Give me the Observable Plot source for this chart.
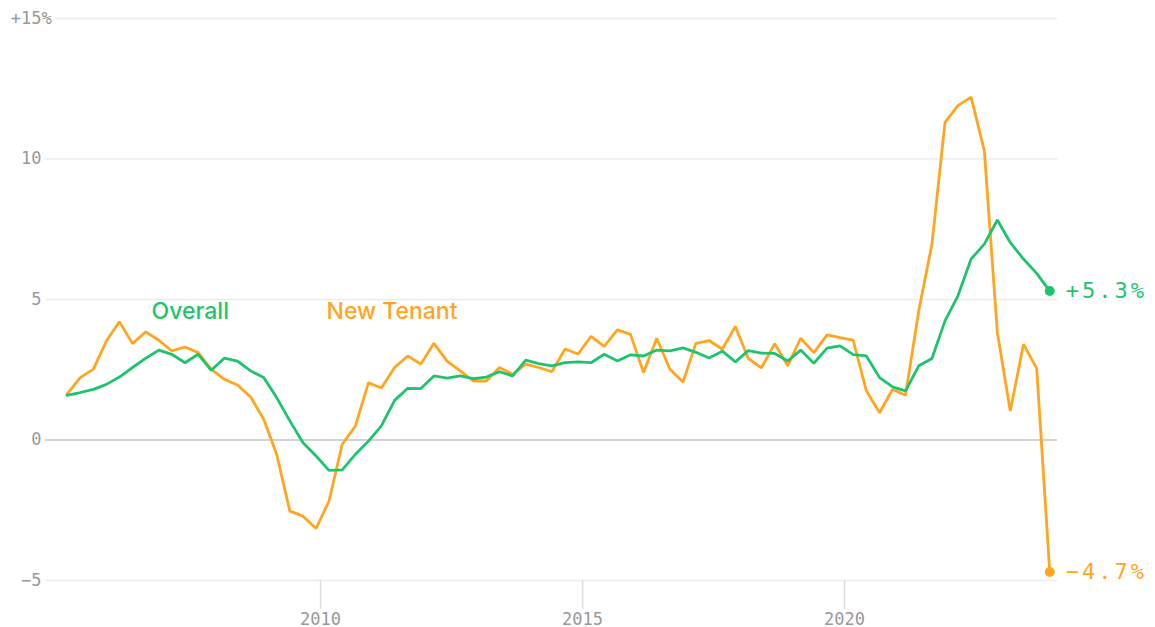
<!DOCTYPE html>
<html>
<head>
<meta charset="utf-8">
<script src="https://cdn.jsdelivr.net/npm/d3@7"></script>
<script src="https://cdn.jsdelivr.net/npm/@observablehq/plot@0.6"></script>
<style>
  html, body { margin: 0; padding: 0; background: #fff; }
  .endlabel text { letter-spacing: 3px; }
</style>
</head>
<body>
<div id="chart"></div>
<script>
// Quarterly series, 2005 Q1 .. 2023 Q4 (76 quarters)
const startYear = 2005;
const seriesNames = ["Overall", "New Tenant"];
const seriesColors = ["#1ec46d", "#ffa51f"];

const overall = [
  1.59, 1.69, 1.80, 1.98, 2.24, 2.58, 2.91, 3.20, 3.05, 2.75,
  3.05, 2.48, 2.91, 2.81, 2.46, 2.22, 1.51, 0.68, -0.10, -0.57,
  -1.08, -1.06, -0.51, -0.04, 0.50, 1.41, 1.84, 1.83, 2.28, 2.20,
  2.28, 2.18, 2.24, 2.43, 2.28, 2.84, 2.72, 2.64, 2.75, 2.78,
  2.75, 3.05, 2.81, 3.03, 2.99, 3.20, 3.17, 3.28, 3.12, 2.92,
  3.16, 2.78, 3.18, 3.09, 3.08, 2.81, 3.20, 2.73, 3.27, 3.35,
  3.04, 2.99, 2.22, 1.89, 1.75, 2.64, 2.90, 4.24, 5.13, 6.44,
  6.97, 7.83, 7.03, 6.44, 5.93, 5.3
];

const newTenant = [
  1.63, 2.22, 2.52, 3.53, 4.21, 3.43, 3.85, 3.55, 3.17, 3.31,
  3.11, 2.52, 2.16, 1.96, 1.53, 0.74, -0.51, -2.53, -2.71, -3.15,
  -2.17, -0.15, 0.50, 2.04, 1.85, 2.58, 2.99, 2.70, 3.44, 2.81,
  2.46, 2.10, 2.10, 2.58, 2.34, 2.70, 2.58, 2.43, 3.24, 3.06,
  3.69, 3.33, 3.92, 3.76, 2.40, 3.62, 2.52, 2.06, 3.44, 3.54,
  3.23, 4.04, 2.90, 2.57, 3.43, 2.64, 3.62, 3.11, 3.74, 3.64,
  3.55, 1.75, 0.97, 1.81, 1.59, 4.60, 6.97, 11.30, 11.90, 12.20,
  10.30, 3.82, 1.03, 3.41, 2.55, -4.7
];

const yTicks = [-5, 0, 5, 10, 15];
const yTickLabels = ["\u22125", "0", "5", "10", "+15"];
const xTickYears = [2010, 2015, 2020];

// Build table
const dates = overall.map((_, i) => new Date(Date.UTC(startYear, 2 + 3 * i, 1)));
const seriesValues = [overall, newTenant];
const rows = [];
seriesNames.forEach((name, s) => {
  seriesValues[s].forEach((v, i) => rows.push({series: name, date: dates[i], value: v}));
});
const lastRows = seriesNames.map((name, s) => ({
  series: name,
  date: dates[dates.length - 1],
  value: seriesValues[s][seriesValues[s].length - 1]
}));
const fmtEnd = v => (v >= 0 ? "+" : "\u2212") + Math.abs(v).toFixed(1) + "%";

// inline series labels (annotation anchors)
const seriesLabelAnchors = [
  {series: "Overall", date: new Date(Date.UTC(2007, 6, 8)), value: 4.57},
  {series: "New Tenant", date: new Date(Date.UTC(2011, 4, 14)), value: 4.57}
];

const colorOf = name => seriesColors[seriesNames.indexOf(name)];

const chart = Plot.plot({
  width: 1155,
  height: 627,
  marginTop: 18,
  marginBottom: 47,
  marginLeft: 45,
  marginRight: 98,
  style: {fontFamily: "'DejaVu Sans Mono', monospace", background: "#fff", overflow: "visible"},
  x: {type: "utc", domain: [new Date(Date.UTC(2004, 9, 2)), new Date(Date.UTC(2024, 0, 24))]},
  y: {domain: [-5, 15]},
  marks: [
    Plot.ruleY(yTicks.filter(d => d !== 0 && d !== 15), {stroke: "#ececec", strokeWidth: 1.5}),
    Plot.ruleY([15], {stroke: "#ececec", strokeWidth: 1.5, insetLeft: 10}),
    Plot.ruleY([0], {stroke: "#d3d3d3", strokeWidth: 2}),
    Plot.axisX({
      ticks: xTickYears.map(y => new Date(Date.UTC(y, 0, 1))),
      tickFormat: "%Y",
      tickSize: 29,
      tickPadding: 3,
      fontSize: 17,
      stroke: "#dcdcdc",
      strokeWidth: 1.5,
      fill: "#999",
      label: null
    }),
    Plot.axisY({ticks: [], label: null, tickSize: 0}),
    Plot.text(yTicks, {
      y: d => d,
      text: (d, i) => yTickLabels[i],
      frameAnchor: "left",
      textAnchor: "end",
      dx: -4,
      fill: "#999",
      fontSize: 17
    }),
    Plot.text([15], {
      y: d => d,
      text: () => "%",
      frameAnchor: "left",
      textAnchor: "start",
      dx: -4,
      fill: "#999",
      fontSize: 17
    }),
    Plot.line(rows.filter(d => d.series === "New Tenant"), {
      x: "date", y: "value", stroke: colorOf("New Tenant"), strokeWidth: 2.8, strokeLinejoin: "miter"
    }),
    Plot.line(rows.filter(d => d.series === "Overall"), {
      x: "date", y: "value", stroke: colorOf("Overall"), strokeWidth: 2.8, strokeLinejoin: "miter"
    }),
    Plot.dot(lastRows, {x: "date", y: "value", r: 5, fill: d => colorOf(d.series), stroke: "none"}),
    Plot.text(lastRows, {
      x: "date", y: "value",
      text: d => fmtEnd(d.value),
      dx: 16,
      textAnchor: "start",
      fill: d => colorOf(d.series),
      fontSize: 22,
      className: "endlabel"
    }),
    Plot.text(seriesLabelAnchors, {
      x: "date", y: "value",
      text: "series",
      fill: d => colorOf(d.series),
      fontSize: 23,
      fontWeight: 500,
      fontFamily: "Inter, 'Noto Sans', sans-serif"
    })
  ]
});

document.getElementById("chart").appendChild(chart);
</script>
</body>
</html>
